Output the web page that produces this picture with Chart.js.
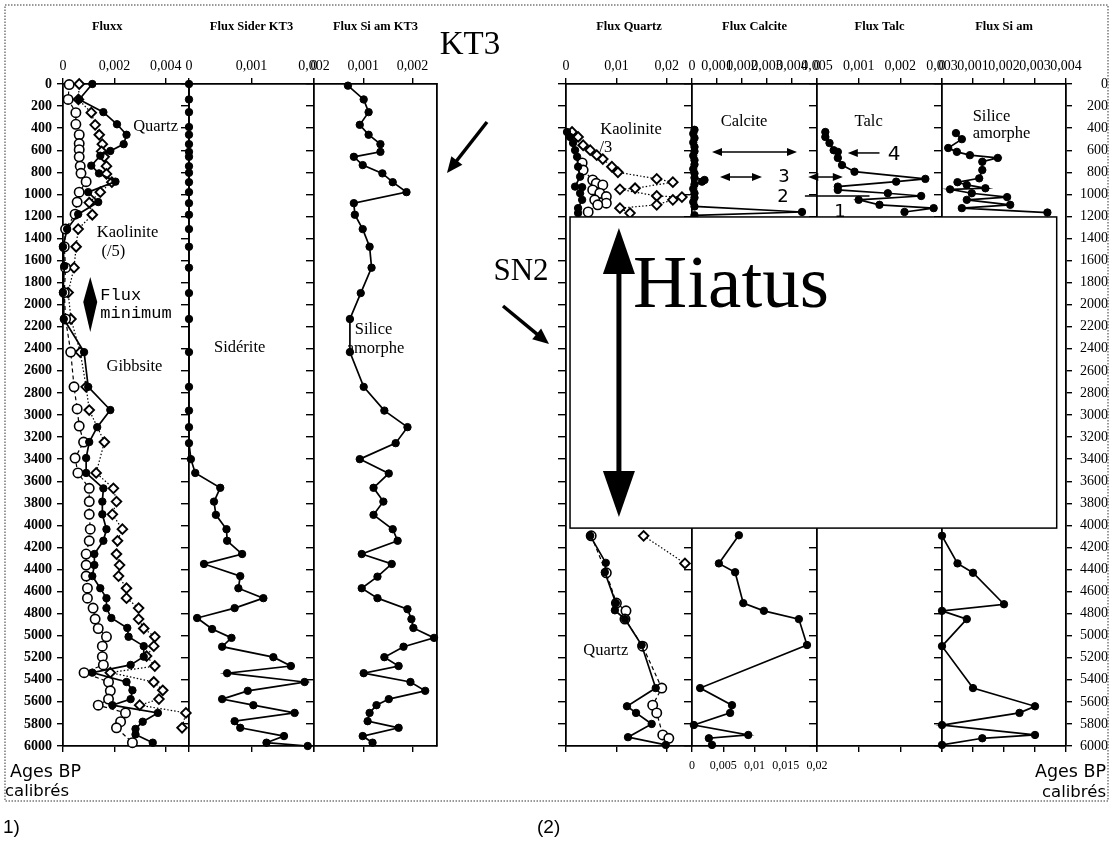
<!DOCTYPE html>
<html>
<head>
<meta charset="utf-8">
<title>Flux KT3 / SN2</title>
<script src="https://cdn.jsdelivr.net/npm/chart.js@4.4.1/dist/chart.umd.min.js"></script>
<style>
html,body{margin:0;padding:0;background:#fff;overflow:hidden;}
canvas{display:block;}
</style>
</head>
<body>
<canvas id="chart" width="1112" height="857"></canvas>
<script>
// ================= DATA =================
const ageRange = [0, 6000];
const ageStep = 200;
const hiatusAges = [1205, 4025];

// column titles and x-domains (min, max, tick step)
const colTitles = ['Fluxx', 'Flux Sider KT3', 'Flux Si am KT3', 'Flux Quartz', 'Flux Calcite', 'Flux Talc', 'Flux Si am'];
const colMax    = [0.0049, 0.002, 0.0025, 0.025, 0.005, 0.003, 0.004];
const colStep   = [0.002, 0.001, 0.001, 0.01, 0.001, 0.001, 0.001];
const calciteBottomMax = 0.02, calciteBottomStep = 0.005;

// ---- Panel (1) KT3 ----
const kt3QuartzAge = [0,140,255,365,460,545,607,650,740,810,885,980,1070,1180,1315,1475,1650,1890,2130,2430,2745,2955,3110,3245,3390,3525,3665,3785,3900,4035,4140,4260,4360,4460,4570,4660,4750,4840,4930,5010,5095,5190,5265,5335,5420,5495,5575,5630,5700,5780,5845,5895,5970];
const kt3QuartzFlux = [0.00114,0.00063,0.00157,0.0021,0.00247,0.00236,0.00184,0.00145,0.0011,0.0014,0.00204,0.00098,0.00137,0.00059,0.00016,0,0.00005,0,0.00003,0.00082,0.00098,0.00184,0.00133,0.00102,0.0009,0.0009,0.00157,0.00153,0.00153,0.00169,0.00157,0.00122,0.00122,0.00114,0.00145,0.00169,0.00169,0.00188,0.0025,0.00255,0.00314,0.00314,0.00263,0.00114,0.00247,0.0027,0.00263,0.00192,0.00369,0.0031,0.00282,0.00282,0.00349];

const kt3KaolAge = [0,140,260,370,460,545,610,660,745,815,890,980,1075,1185,1315,1475,1665,1890,2130,2430,2745,2955,3245,3525,3665,3785,3900,4035,4140,4260,4360,4460,4570,4660,4750,4850,4935,5010,5095,5185,5275,5335,5420,5495,5575,5630,5700,5835];
const kt3KaolFlux = [0.00063,0.0006,0.0011,0.00125,0.00141,0.00153,0.0015,0.0016,0.00169,0.00169,0.0019,0.00145,0.00102,0.00114,0.00059,0.00051,0.00043,0.0002,0.00031,0.00067,0.0009,0.00102,0.00161,0.00129,0.00196,0.00208,0.00192,0.00231,0.00212,0.00208,0.0022,0.00216,0.00247,0.00247,0.00294,0.00294,0.00314,0.00357,0.00353,0.00325,0.00357,0.00184,0.00353,0.00388,0.00373,0.00298,0.00478,0.00463];

const kt3GibbAge = [5,140,260,365,460,540,595,660,745,810,885,980,1070,1180,1315,1475,1665,1890,2130,2430,2745,2945,3100,3245,3390,3525,3665,3785,3900,4035,4140,4260,4360,4460,4570,4660,4750,4850,4935,5010,5095,5190,5265,5335,5420,5500,5575,5630,5700,5780,5835,5970];
const kt3GibbFlux = [0.00024,0.0002,0.0005,0.0005,0.00063,0.00063,0.00063,0.00063,0.00067,0.0007,0.0009,0.00063,0.00055,0.00047,0.0001,0.00005,0.0001,0.00005,0.0001,0.0003,0.00043,0.00055,0.00063,0.0008,0.00047,0.00058,0.00102,0.00102,0.00102,0.00106,0.00102,0.0009,0.0009,0.0009,0.00095,0.00095,0.00117,0.00125,0.00137,0.00169,0.00153,0.00153,0.00157,0.00082,0.00177,0.00184,0.00177,0.00137,0.00243,0.00224,0.00208,0.0027];

const kt3SiderAge = [0,140,255,390,460,545,615,660,745,805,890,980,1080,1185,1315,1475,1665,1895,2130,2430,2745,2960,3110,3255,3400,3525,3660,3785,3905,4035,4140,4260,4350,4460,4570,4660,4750,4840,4940,5020,5100,5195,5275,5340,5420,5500,5575,5630,5700,5775,5835,5910,5970,6000];
const kt3SiderFlux = [0,0,0,0,0,0,0,0,0,0,0,0,0,0,0,0,0,0,0,0,0,0,0,0,0.00003,0.0001,0.0005,0.0004,0.00043,0.0006,0.00061,0.00085,0.00024,0.00082,0.00079,0.00119,0.00073,0.00013,0.00037,0.00068,0.00053,0.00135,0.00163,0.00061,0.00185,0.00094,0.00053,0.00103,0.00169,0.00073,0.00082,0.00152,0.00124,0.0019];

const kt3SiamAge = [15,140,255,370,460,545,615,660,735,810,890,980,1080,1185,1315,1475,1665,1895,2130,2430,2745,2960,3110,3255,3400,3530,3660,3785,3905,4035,4140,4260,4350,4465,4570,4660,4760,4850,4930,5020,5100,5195,5275,5340,5420,5500,5575,5630,5700,5775,5835,5910,5970];
const kt3SiamFlux = [0.00069,0.00101,0.00111,0.00093,0.00111,0.00135,0.00135,0.00081,0.00099,0.00139,0.0016,0.00188,0.00081,0.00083,0.00099,0.00113,0.00117,0.00095,0.00073,0.00073,0.00101,0.00143,0.0019,0.00166,0.00093,0.00152,0.00121,0.00141,0.00121,0.0016,0.0017,0.00097,0.00158,0.00129,0.00097,0.00129,0.0019,0.00198,0.00202,0.00244,0.00182,0.00143,0.00172,0.00101,0.00196,0.00226,0.00152,0.00127,0.00113,0.00109,0.00172,0.00099,0.00119];

// ---- Panel (2) SN2 ----
const sn2QuartzTopAge = [435,480,535,600,660,750,840,930,935,990,1050,1125,1170];
const sn2QuartzTopFlux = [0.0002,0.0008,0.0014,0.0018,0.0022,0.0024,0.0028,0.0018,0.0032,0.0028,0.0032,0.0024,0.0024];
const sn2QuartzBotAge = [4095,4340,4425,4705,4770,4850,5085,5475,5640,5700,5800,5920,5990];
const sn2QuartzBotFlux = [0.0048,0.0079,0.0077,0.0099,0.0097,0.0117,0.015,0.0178,0.0121,0.0139,0.017,0.0123,0.0198];

const sn2KaolTopAge = [435,480,555,600,645,680,750,800,860,890,945,955,1015,1025,1050,1095,1125,1170];
const sn2KaolTopFlux = [0.0012,0.0024,0.0034,0.0048,0.0061,0.0073,0.0091,0.0103,0.018,0.0212,0.0137,0.0107,0.018,0.023,0.0212,0.018,0.0107,0.0127];
const sn2KaolBotAge = [4095,4345];
const sn2KaolBotFlux = [0.0154,0.0236];

const sn2GibbTopAge = [715,780,870,900,915,960,990,1020,1050,1080,1095,1160];
const sn2GibbTopFlux = [0.0032,0.0034,0.0053,0.006,0.0073,0.0053,0.0067,0.008,0.0057,0.008,0.0063,0.0044];
const sn2GibbBotAge = [4095,4430,4705,4775,4850,5095,5475,5630,5700,5900,5930];
const sn2GibbBotFlux = [0.005,0.008,0.01,0.0119,0.0117,0.0152,0.019,0.0172,0.018,0.0192,0.0204];

const sn2CalTopAge = [415,450,490,530,570,610,650,690,730,770,810,850,870,885,910,950,990,1030,1070,1110,1160,1190];
const sn2CalTopFlux = [0.0001,0.00005,0.0001,0.00005,0.0001,0.0001,0.00005,0.0001,0.0001,0.00005,0.0001,0.0001,0.0005,0.0004,0.0001,0.00005,0.0001,0.0001,0.00005,0.0001,0.0044,0.0001];
const sn2CalBotAge = [4090,4345,4425,4705,4775,4850,5085,5475,5630,5700,5810,5900,5930,5990];
const sn2CalBotFlux = [0.0075,0.0043,0.0069,0.0082,0.0115,0.0171,0.0184,0.0013,0.0064,0.0061,0.0003,0.009,0.0027,0.0032];

const sn2TalcAge = [435,480,535,600,615,670,735,795,860,885,930,960,990,1015,1050,1095,1125,1160];
const sn2TalcFlux = [0.0002,0.0002,0.0003,0.0004,0.0005,0.0005,0.0006,0.0009,0.0026,0.0019,0.0005,0.0005,0.0017,0.0025,0.001,0.0015,0.0028,0.0021];

const sn2SiamTopAge = [445,500,580,615,645,670,705,780,855,890,915,945,955,990,1025,1050,1095,1125,1165];
const sn2SiamTopFlux = [0.00045,0.00064,0.0002,0.00048,0.0009,0.0018,0.0013,0.0013,0.0012,0.0005,0.0008,0.0014,0.00026,0.00096,0.0021,0.0008,0.0022,0.00064,0.0034];
const sn2SiamBotAge = [4095,4345,4430,4715,4775,4850,5095,5475,5640,5700,5810,5900,5930,5990];
const sn2SiamBotFlux = [0,0.0005,0.001,0.002,0,0.0008,0,0.001,0.003,0.0025,0,0.003,0.0013,0];

// ================= STYLE / LAYOUT =================
const SERIF = '"Liberation Serif","Times New Roman",serif';
const SANS = '"DejaVu Sans","Liberation Sans",sans-serif';
const MONO = '"Liberation Mono","DejaVu Sans Mono",monospace';
const TOP_H = 72, BOT_H = 30;
// relative column widths (gap between the two panels included)
const W = { fluxx:126, sider:125, siam1:123, gap:129, quartz:126, cal:125, talc:125, siam2:124 };

function fmt(v) {
  if (Math.abs(v) < 1e-12) return '0';
  return String(parseFloat(Number(v).toFixed(5))).replace('.', ',');
}
function stepFilter(step) {
  return function (scale) {
    scale.ticks = scale.ticks.filter(t => Math.abs(t.value / step - Math.round(t.value / step)) < 1e-6);
  };
}
function xAxis(pos, title, min, max, step, order, sw, showLabels, fontSize) {
  const o = {
    type: 'linear', position: pos, stack: 'cols', stackWeight: sw, weight: order,
    min: min, max: max, bounds: 'data',
    ticks: { display: showLabels, stepSize: step, includeBounds: false, autoSkip: false, maxRotation: 0, minRotation: 0,
             maxTicksLimit: 100, callback: fmt, color: '#000', font: { family: SERIF, size: fontSize || 14 }, padding: pos === 'top' ? 3 : 7 },
    grid: { drawOnChartArea: false, drawTicks: true, tickLength: 6, color: '#000', lineWidth: 1.4 },
    border: { display: true, color: '#000', width: 1.8 },
    afterBuildTicks: stepFilter(step),
    afterFit: s => { s.height = pos === 'top' ? TOP_H : BOT_H; }
  };
  if (title) {
    o.title = { display: true, text: title, color: '#000', font: { family: SERIF, size: 12.5, weight: 'bold' }, padding: { top: 7, bottom: 0 } };
  }
  return o;
}
function gapAxis(pos, order) {
  return { type: 'linear', position: pos, stack: 'cols', stackWeight: W.gap, weight: order, min: 0, max: W.gap, display: false };
}
function sepAxis(axisId, value, ticks) {
  return {
    type: 'linear', axis: 'y', position: { [axisId]: value }, min: ageRange[0], max: ageRange[1], reverse: true, bounds: 'data',
    ticks: { display: false, stepSize: ageStep, maxTicksLimit: 100, autoSkip: false },
    grid: { drawOnChartArea: false, drawTicks: ticks, tickLength: 7, color: '#000', lineWidth: 1.4 },
    border: { display: true, color: '#000', width: 1.8 }
  };
}
function yMain(pos, width) {
  return {
    type: 'linear', position: pos, min: ageRange[0], max: ageRange[1], reverse: true, bounds: 'data',
    ticks: { stepSize: ageStep, maxTicksLimit: 100, autoSkip: false, callback: v => String(v), color: '#000',
             font: { family: SERIF, size: 14, weight: pos === 'left' ? 'bold' : 'normal' }, padding: 5, crossAlign: pos === 'left' ? 'near' : 'far' },
    grid: { drawOnChartArea: false, tickLength: 6, color: '#000', lineWidth: 1.4 },
    border: { display: true, color: '#000', width: 1.8 },
    afterFit: s => { s.width = width; }
  };
}

// top axes: higher weight is placed first (left) ; bottom axes: lower weight first
const scales = {
  xFluxx:  xAxis('top', 'Fluxx\u00a0\u00a0\u00a0\u00a0\u00a0\u00a0\u00a0\u00a0\u00a0\u00a0\u00a0\u00a0', 0, colMax[0], colStep[0], 8, W.fluxx, true),
  xSider:  xAxis('top', colTitles[1], 0, colMax[1], colStep[1], 7, W.sider, true),
  xSiam1:  xAxis('top', colTitles[2], 0, colMax[2], colStep[2], 6, W.siam1, true),
  xGapT:   gapAxis('top', 5),
  xQuartz: xAxis('top', colTitles[3], 0, colMax[3], colStep[3], 4, W.quartz, true),
  xCalTop: xAxis('top', colTitles[4], 0, colMax[4], colStep[4], 3, W.cal, true),
  xTalc:   xAxis('top', colTitles[5], 0, colMax[5], colStep[5], 2, W.talc, true),
  xSiam2:  xAxis('top', colTitles[6], 0, colMax[6], colStep[6], 1, W.siam2, true),

  xFluxxB:  xAxis('bottom', null, 0, colMax[0], colStep[0], 1, W.fluxx, false),
  xSiderB:  xAxis('bottom', null, 0, colMax[1], colStep[1], 2, W.sider, false),
  xSiam1B:  xAxis('bottom', null, 0, colMax[2], colStep[2], 3, W.siam1, false),
  xGapB:    gapAxis('bottom', 4),
  xQuartzB: xAxis('bottom', null, 0, colMax[3], colStep[3], 5, W.quartz, false),
  xCalBot:  xAxis('bottom', null, 0, calciteBottomMax, calciteBottomStep, 6, W.cal, true, 12),
  xTalcB:   xAxis('bottom', null, 0, colMax[5], colStep[5], 7, W.talc, false),
  xSiam2B:  xAxis('bottom', null, 0, colMax[6], colStep[6], 8, W.siam2, false),

  y:  yMain('left', 63),
  y2: yMain('right', 42),

  ySep1: sepAxis('xSider', 0, true),
  ySep2: sepAxis('xSiam1', 0, true),
  ySep3: sepAxis('xSiam1', colMax[2], false),
  ySep4: sepAxis('xQuartz', 0, true),
  ySep5: sepAxis('xCalTop', 0, true),
  ySep6: sepAxis('xTalc', 0, true),
  ySep7: sepAxis('xSiam2', 0, true)
};

const FILLED = { borderColor: '#000', borderWidth: 1.7, pointRadius: 3.7, pointBackgroundColor: '#000', pointBorderColor: '#000', pointBorderWidth: 1 };
const OPENC  = { borderColor: '#000', borderWidth: 1.2, borderDash: [4, 3], pointRadius: 4.7, pointBackgroundColor: '#fff', pointBorderColor: '#000', pointBorderWidth: 1.6 };
const DIAM   = { borderColor: '#000', borderWidth: 1.2, borderDash: [1.5, 2], pointStyle: 'rectRot', pointRadius: 4.8, pointBackgroundColor: '#fff', pointBorderColor: '#000', pointBorderWidth: 1.9 };

function series(ages, flux, xAxisID, style) {
  return Object.assign({
    data: ages.map((a, i) => ({ x: flux[i], y: a })),
    xAxisID: xAxisID, yAxisID: 'y', showLine: true, clip: 8, tension: 0, fill: false
  }, style);
}

const datasets = [
  series(kt3QuartzAge, kt3QuartzFlux, 'xFluxx', FILLED),
  series(kt3GibbAge, kt3GibbFlux, 'xFluxx', OPENC),
  series(kt3KaolAge, kt3KaolFlux, 'xFluxx', DIAM),
  series(kt3SiderAge, kt3SiderFlux, 'xSider', FILLED),
  series(kt3SiamAge, kt3SiamFlux, 'xSiam1', FILLED),

  series(sn2QuartzTopAge, sn2QuartzTopFlux, 'xQuartz', FILLED),
  series(sn2QuartzBotAge, sn2QuartzBotFlux, 'xQuartz', FILLED),
  series(sn2GibbTopAge, sn2GibbTopFlux, 'xQuartz', OPENC),
  series(sn2GibbBotAge, sn2GibbBotFlux, 'xQuartz', OPENC),
  series(sn2KaolTopAge, sn2KaolTopFlux, 'xQuartz', DIAM),
  series(sn2KaolBotAge, sn2KaolBotFlux, 'xQuartz', DIAM),
  series(sn2CalTopAge, sn2CalTopFlux, 'xCalTop', FILLED),
  series(sn2CalBotAge, sn2CalBotFlux, 'xCalBot', FILLED),
  series(sn2TalcAge, sn2TalcFlux, 'xTalc', FILLED),
  series(sn2SiamTopAge, sn2SiamTopFlux, 'xSiam2', FILLED),
  series(sn2SiamBotAge, sn2SiamBotFlux, 'xSiam2', FILLED)
];

// ================= DECORATIONS =================
function head(c, x1, y1, x2, y2, len, half) {
  const a = Math.atan2(y2 - y1, x2 - x1);
  const bx = x2 - len * Math.cos(a), by = y2 - len * Math.sin(a);
  c.beginPath();
  c.moveTo(x2, y2);
  c.lineTo(bx + half * Math.sin(a), by - half * Math.cos(a));
  c.lineTo(bx - half * Math.sin(a), by + half * Math.cos(a));
  c.closePath();
  c.fill();
}
function arrow(c, x1, y1, x2, y2, lw, len, half, both) {
  const a = Math.atan2(y2 - y1, x2 - x1);
  const ex = x2 - (len * 0.8) * Math.cos(a), ey = y2 - (len * 0.8) * Math.sin(a);
  const sx = both ? x1 + (len * 0.8) * Math.cos(a) : x1, sy = both ? y1 + (len * 0.8) * Math.sin(a) : y1;
  c.lineWidth = lw;
  c.beginPath(); c.moveTo(sx, sy); c.lineTo(ex, ey); c.stroke();
  head(c, x1, y1, x2, y2, len, half);
  if (both) head(c, x2, y2, x1, y1, len, half);
}
function text(c, str, x, y, font, align) {
  c.font = font; c.textAlign = align || 'center'; c.textBaseline = 'middle'; c.fillText(str, x, y);
}

const LBL = '16.5px ' + SERIF;
const decor = {
  id: 'decor',
  beforeDraw(chart) {
    const c = chart.ctx;
    c.save(); c.fillStyle = '#fff'; c.fillRect(0, 0, chart.width, chart.height); c.restore();
  },
  afterDatasetsDraw(chart) {
    const c = chart.ctx, s = chart.scales;
    const X = (id, v) => s[id].getPixelForValue(v);
    const Y = a => s.y.getPixelForValue(a);
    c.save();
    c.fillStyle = '#000'; c.strokeStyle = '#000';

    // ---- panel 1 labels ----
    text(c, 'Quartz', X('xFluxx', 0.0036), Y(390), LBL);
    text(c, 'Kaolinite', X('xFluxx', 0.00251), Y(1350), LBL);
    text(c, '(/5)', X('xFluxx', 0.00196), Y(1523), LBL);
    text(c, 'Gibbsite', X('xFluxx', 0.00278), Y(2565), LBL);
    // flux minimum symbol
    const dx = X('xFluxx', 0.00106), dTop = Y(1749), dBot = Y(2248), dMid = Y(1975);
    c.beginPath(); c.moveTo(dx, dTop); c.lineTo(dx + 7, dMid); c.lineTo(dx, dBot); c.lineTo(dx - 7, dMid); c.closePath(); c.fill();
    text(c, 'Flux', X('xFluxx', 0.00145), Y(1921), '17px ' + MONO, 'left');
    text(c, 'minimum', X('xFluxx', 0.00145), Y(2076), '17px ' + MONO, 'left');
    text(c, 'Sidérite', X('xSider', 0.00081), Y(2393), LBL);
    text(c, 'Silice', X('xSiam1', 0.00121), Y(2230), LBL);
    text(c, 'amorphe', X('xSiam1', 0.00125), Y(2402), LBL);

    // ---- site labels ----
    text(c, 'KT3', X('xGapT', 33), Y(-350), '33px ' + SERIF);
    arrow(c, X('xGapT', 50), Y(344), X('xGapT', 10), Y(807), 3.5, 16, 7, false);
    text(c, 'SN2', X('xGapT', 84), Y(1704), '31px ' + SERIF);
    arrow(c, X('xGapT', 66), Y(2012), X('xGapT', 112), Y(2357), 3.5, 16, 7, false);

    // ---- panel 2 labels ----
    text(c, 'Kaolinite', X('xQuartz', 0.0129), Y(417), LBL);
    text(c, '/3', X('xQuartz', 0.0079), Y(580), LBL);
    text(c, 'Quartz', X('xQuartz', 0.0079), Y(5139), LBL);
    text(c, 'Calcite', X('xCalTop', 0.00208), Y(344), LBL);
    arrow(c, X('xCalTop', 0.0008), Y(616), X('xCalTop', 0.0042), Y(616), 1.5, 10, 4, true);
    arrow(c, X('xCalTop', 0.00112), Y(843), X('xCalTop', 0.0028), Y(843), 1.5, 10, 4, true);
    text(c, '3', X('xCalTop', 0.00368), Y(843), '18px ' + SANS);
    text(c, '2', X('xCalTop', 0.00364), Y(1024), '18px ' + SANS);
    arrow(c, X('xTalc', -0.00021), Y(843), X('xTalc', 0.00062), Y(843), 1.5, 10, 4, true);
    c.lineWidth = 1.3; c.beginPath(); c.moveTo(X('xTalc', -0.00029), Y(1015)); c.lineTo(X('xTalc', 0.00126), Y(1015)); c.stroke();
    text(c, '1', X('xTalc', 0.00055), Y(1165), '18px ' + SANS);
    text(c, 'Talc', X('xTalc', 0.00124), Y(344), LBL);
    arrow(c, X('xTalc', 0.0015), Y(625), X('xTalc', 0.00074), Y(625), 1.5, 10, 4, false);
    text(c, '4', X('xTalc', 0.00185), Y(644), '20px ' + SANS);
    text(c, 'Silice', X('xSiam2', 0.00099), Y(299), LBL, 'left');
    text(c, 'amorphe', X('xSiam2', 0.00099), Y(453), LBL, 'left');

    // ---- hiatus box ----
    const bx1 = X('xQuartz', 0.0008), bx2 = X('xSiam2', 0.0037), by1 = Y(hiatusAges[0]), by2 = Y(hiatusAges[1]);
    c.fillStyle = '#fff'; c.fillRect(bx1, by1, bx2 - bx1, by2 - by1);
    c.lineWidth = 1.5; c.strokeStyle = '#000'; c.strokeRect(bx1, by1, bx2 - bx1, by2 - by1);
    c.fillStyle = '#000';
    text(c, 'Hiatus', X('xCalTop', 0.00156), Y(1840), '75px ' + SERIF);
    const ax = X('xQuartz', 0.0105);
    arrow(c, ax, Y(hiatusAges[0] + 100), ax, Y(hiatusAges[1] - 100), 5, 46, 16, true);
    c.restore();
  },
  afterDraw(chart) {
    const c = chart.ctx;
    const ca = chart.chartArea;
    c.save();
    c.fillStyle = '#000';
    text(c, 'Ages BP', 10, 772, '17.5px ' + SANS, 'left');
    text(c, 'calibrés', 5, 792, '16.5px ' + SANS, 'left');
    text(c, 'Ages BP', ca.right + 40, 772, '17.5px ' + SANS, 'right');
    text(c, 'calibrés', ca.right + 40, 793, '16.5px ' + SANS, 'right');
    text(c, '1)', 3, 828, '19px "Liberation Sans",sans-serif', 'left');
    text(c, '(2)', 537, 828, '19px "Liberation Sans",sans-serif', 'left');
    // outer dotted frame
    c.strokeStyle = '#777'; c.lineWidth = 1.5; c.setLineDash([1.5, 1.5]);
    c.strokeRect(5, 5, 1103, 796);
    c.restore();
  }
};

new Chart(document.getElementById('chart'), {
  type: 'scatter',
  data: { datasets: datasets },
  options: {
    responsive: false, animation: false, devicePixelRatio: 1, events: [],
    layout: { padding: { top: 12, left: 0, right: 4, bottom: 81 }, autoPadding: false },
    plugins: { legend: { display: false }, tooltip: { enabled: false } },
    scales: scales
  },
  plugins: [decor]
});
</script>
</body>
</html>
